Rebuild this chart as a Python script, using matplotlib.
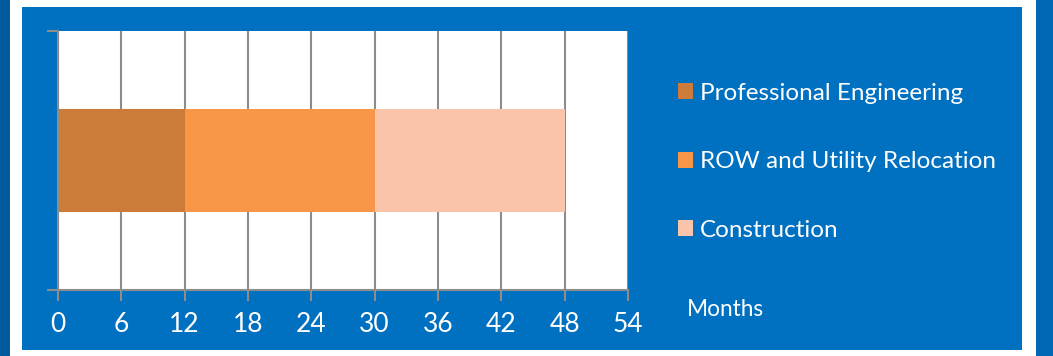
import matplotlib
matplotlib.use("Agg")
import matplotlib.pyplot as plt
from matplotlib.patches import Rectangle

categories = ["Schedule"]
phases = ["Professional Engineering", "ROW and Utility Relocation", "Construction"]
durations = [12, 18, 18]
colors = ["#CD7B39", "#F79646", "#F9C4AA"]
xticks = [0, 6, 12, 18, 24, 30, 36, 42, 48, 54]

W, H = 1053, 356
fig = plt.figure(figsize=(W / 100, H / 100), dpi=100)
fig.patch.set_facecolor("white")

def frect(x0, y0, x1, y1, c):
    fig.patches.append(Rectangle((x0 / W, 1 - y1 / H), (x1 - x0) / W, (y1 - y0) / H,
                                 transform=fig.transFigure, facecolor=c, edgecolor="none", zorder=-5))

frect(0, 0, 10, H, "#005A9E")
frect(1036, 0, W, H, "#0068B5")
frect(22, 7, 1022, 350, "#0070C0")

font = ["Lato", "DejaVu Sans"]
ax = fig.add_axes([58 / W, 1 - 290 / H, (628 - 58) / W, (290 - 31) / H])
ax.set_facecolor("white")
left = 0
for name, d, c in zip(phases, durations, colors):
    ax.barh(categories, [d], left=[left], height=0.4, color=c, label=name, zorder=2)
    left += d
ax.set_xlim(0, 54)
ax.set_ylim(-0.5, 0.5)
ax.set_xticks(xticks)
ax.set_xticklabels([str(t) for t in xticks], color="white", fontsize=19, family=font)
ax.set_yticks([-0.5, 0.5])
ax.set_yticklabels([])
ax.tick_params(axis="x", length=8, width=1.5, color="#8C8C8C", pad=8)
ax.tick_params(axis="y", length=8, width=1.5, color="#8C8C8C")
ax.grid(axis="x", color="#8C8C8C", linewidth=1.5, zorder=1)
for s in ["top", "right"]:
    ax.spines[s].set_visible(False)
for s in ["left", "bottom"]:
    ax.spines[s].set_color("#8C8C8C")
    ax.spines[s].set_linewidth(1.5)

leg = fig.legend(loc="upper left", bbox_to_anchor=(656 / W, 1 - 61 / H), frameon=False,
                 prop={"family": font, "size": 17.5}, labelcolor="white",
                 handlelength=0.62, handleheight=0.62, handletextpad=0.3, labelspacing=1.95)
fig.text(687 / W, 1 - 310 / H, "Months", color="white", fontsize=16.3, family=font, va="center")

fig.savefig("out.png", dpi=100, facecolor=fig.get_facecolor())
